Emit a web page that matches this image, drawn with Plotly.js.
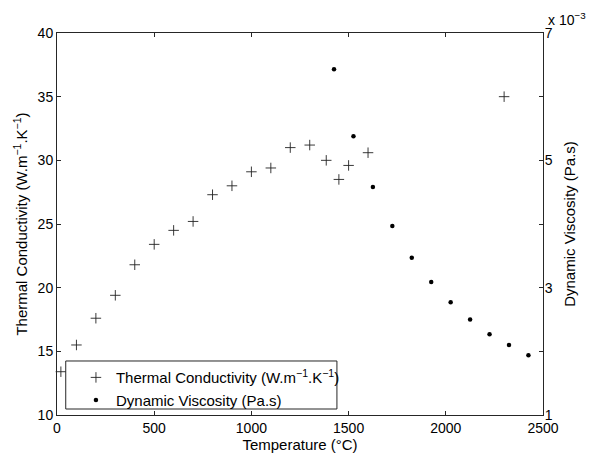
<!DOCTYPE html>
<html>
<head>
<meta charset="utf-8">
<script src="https://cdn.plot.ly/plotly-3.0.1.min.js"></script>
<style>html,body{margin:0;padding:0;background:#fff;}#chart{width:592px;height:454px;}</style>
</head>
<body>
<div id="chart"></div>
<script>
// Thermal conductivity (W.m^-1.K^-1) vs temperature (°C)
const tcTemp = [20, 100, 200, 300, 400, 500, 600, 700, 800, 900, 1000, 1100, 1200, 1300, 1385, 1450, 1500, 1600, 2300];
const tcValue = [13.4, 15.5, 17.6, 19.4, 21.8, 23.4, 24.5, 25.2, 27.3, 28.0, 29.1, 29.4, 31.0, 31.2, 30.0, 28.5, 29.6, 30.6, 35.0];
// Dynamic viscosity (x 10^-3 Pa.s) vs temperature (°C)
const dvTemp = [1425, 1525, 1625, 1725, 1825, 1925, 2025, 2125, 2225, 2325, 2425];
const dvValue = [6.43, 5.38, 4.58, 3.97, 3.47, 3.09, 2.77, 2.50, 2.27, 2.10, 1.94];
// Axis ticks
const xTicks = [0, 500, 1000, 1500, 2000, 2500];
const yTicks = [10, 15, 20, 25, 30, 35, 40];
const y2Ticks = [1, 2, 3, 4, 5, 6, 7];
const y2TickText = ['1', '', '3', '', '5', '', '7'];

const fam = 'Liberation Sans, Arial, sans-serif';
const tickFont = {family: fam, size: 14, color: '#000'};
const titleFont = {family: fam, size: 15, color: '#000'};
const lineCol = '#262626';

const traces = [
  {
    x: tcTemp, y: tcValue, type: 'scatter', mode: 'markers',
    name: 'Thermal Conductivity (W.m<sup>−1</sup>.K<sup>−1</sup>)',
    marker: {symbol: 'cross-thin-open', size: 7.5, color: '#222', line: {color: '#222', width: 0.9}},
    cliponaxis: false
  },
  {
    x: dvTemp, y: dvValue, type: 'scatter', mode: 'markers', yaxis: 'y2',
    name: 'Dynamic Viscosity (Pa.s)',
    marker: {symbol: 'circle', size: 4.5, color: '#000'}
  }
];

const layout = {
  width: 592, height: 454,
  margin: {l: 57, r: 49, t: 33, b: 39},
  paper_bgcolor: '#fff', plot_bgcolor: '#fff',
  font: tickFont,
  showlegend: true,
  legend: {
    x: 0.039, y: -0.003, xanchor: 'left', yanchor: 'bottom',
    bgcolor: 'rgba(0,0,0,0)', borderwidth: 0,
    font: titleFont, tracegroupgap: 0
  },
  shapes: [
    {type: 'rect', xref: 'paper', yref: 'paper', layer: 'above',
     x0: 0.018, x1: 0.576, y0: 0.0157, y1: 0.1414,
     line: {color: lineCol, width: 1}, fillcolor: '#fff'}
  ],
  xaxis: {
    range: [0, 2500], tickvals: xTicks, ticks: 'inside', ticklen: 4, tickcolor: lineCol,
    showline: true, linecolor: lineCol, linewidth: 1, mirror: 'ticks',
    showgrid: false, zeroline: false, tickfont: tickFont,
    title: {text: 'Temperature (°C)', font: titleFont, standoff: 2}
  },
  yaxis: {
    range: [10, 40], tickvals: yTicks, ticks: 'inside', ticklen: 4, tickcolor: lineCol,
    showline: true, linecolor: lineCol, linewidth: 1,
    showgrid: false, zeroline: false, tickfont: tickFont,
    title: {text: 'Thermal Conductivity (W.m<sup>−1</sup>.K<sup>−1</sup>)', font: titleFont, standoff: 6}
  },
  yaxis2: {
    range: [1, 7], overlaying: 'y', side: 'right', tickvals: y2Ticks, ticktext: y2TickText,
    ticks: 'inside', ticklen: 4, tickcolor: lineCol, ticklabelstandoff: -2,
    showline: true, linecolor: lineCol, linewidth: 1,
    showgrid: false, zeroline: false, tickfont: tickFont,
    title: {text: 'Dynamic Viscosity (Pa.s)', font: titleFont, standoff: 12}
  },
  annotations: [
    {xref: 'paper', yref: 'paper', x: 1.093, y: 1.036, xanchor: 'right', yanchor: 'middle',
     text: 'x 10<sup>−3</sup>', showarrow: false, font: tickFont}
  ]
};

Plotly.newPlot('chart', traces, layout, {displayModeBar: false, staticPlot: true});
</script>
</body>
</html>
